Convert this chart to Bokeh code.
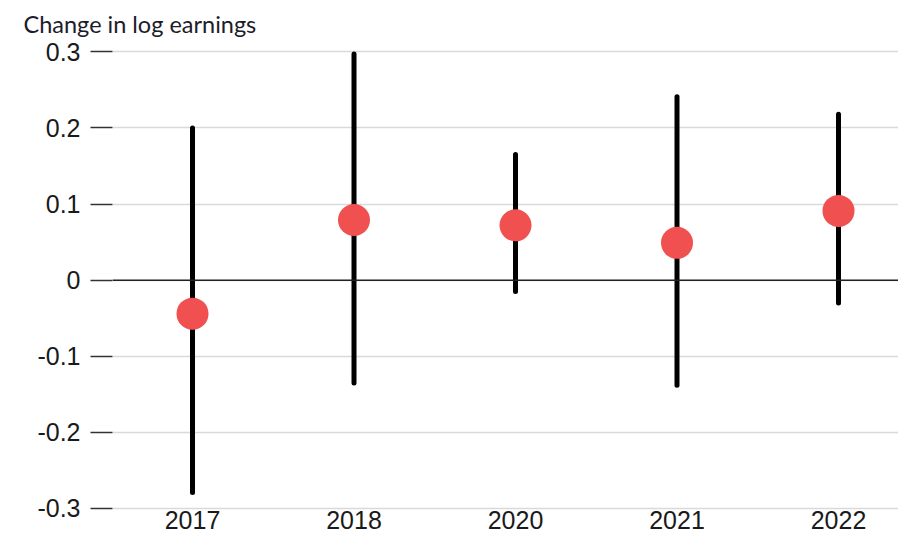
from bokeh.plotting import figure
from bokeh.models import ColumnDataSource, Range1d, FixedTicker, Span, Title, NumeralTickFormatter
from bokeh.embed import file_html
from bokeh.resources import INLINE

# ---- data ----
years = ["2017", "2018", "2020", "2021", "2022"]
estimate = [-0.044, 0.079, 0.072, 0.049, 0.091]
ci_low = [-0.279, -0.135, -0.015, -0.138, -0.030]
ci_high = [0.200, 0.297, 0.165, 0.241, 0.218]
y_ticks = [-0.3, -0.2, -0.1, 0, 0.1, 0.2, 0.3]
title_text = "Change in log earnings"

xpos = [i + 0.5 for i in range(len(years))]
source = ColumnDataSource(dict(x=xpos, year=years, est=estimate, lo=ci_low, hi=ci_high))

TICK_FONT = "Liberation Sans"

p = figure(
    width=898, height=540,
    x_range=Range1d(0.0046, 4.8715),
    y_range=Range1d(-0.30263, 0.30696),
    min_border_left=112, min_border_right=0,
    min_border_top=46, min_border_bottom=30,
    output_backend="svg", toolbar_location=None,
)
p.outline_line_color = None
p.background_fill_color = "white"
p.border_fill_color = "white"

p.title = Title(text=title_text, align="left", offset=-89, vertical_align="top",
                text_font="Lato", text_font_size="23.5px",
                text_font_style="normal", text_color="#1c1c2a", standoff=14)

# grid
p.xgrid.visible = False
p.ygrid.ticker = FixedTicker(ticks=y_ticks)
p.ygrid.grid_line_color = "#d9d9d9"
p.ygrid.grid_line_width = 1.5

# y axis
ya = p.yaxis[0]
ya.ticker = FixedTicker(ticks=y_ticks)
ya.formatter = NumeralTickFormatter(format="0.[0]")
ya.axis_line_color = None
ya.major_tick_out = 22
ya.major_tick_in = 0
ya.minor_tick_line_color = None
ya.major_tick_line_color = "#333333"
ya.major_tick_line_width = 1.5
ya.major_label_standoff = 10
ya.major_label_text_font = TICK_FONT
ya.major_label_text_font_size = "25px"
ya.major_label_text_color = "#1a1a1a"

# x axis
xa = p.xaxis[0]
xa.ticker = FixedTicker(ticks=xpos)
xa.major_label_overrides = {x: y for x, y in zip(xpos, years)}
xa.axis_line_color = None
xa.major_tick_out = 0
xa.major_tick_in = 0
xa.minor_tick_line_color = None
xa.major_tick_line_color = None
xa.major_label_standoff = 0
xa.major_label_text_font = TICK_FONT
xa.major_label_text_font_size = "25px"
xa.major_label_text_color = "#1a1a1a"

# zero line
p.add_layout(Span(location=0, dimension="width", line_color="#222222", line_width=1.5))

# intervals and estimates
p.segment(x0="x", y0="lo", x1="x", y1="hi", source=source,
          line_width=5, line_color="black", line_cap="round")
p.scatter(x="x", y="est", source=source, size=32,
          fill_color="#F05050", line_color=None)

open("out.html", "w").write(file_html(p, INLINE))
